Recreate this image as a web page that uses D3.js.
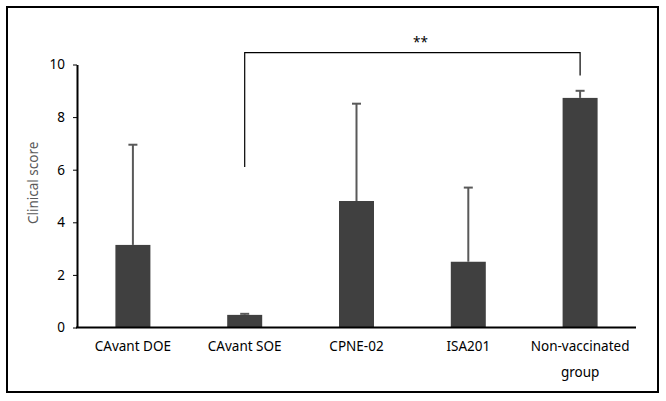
<!DOCTYPE html>
<head>
    <meta charset="utf-8">
    <script src="https://d3js.org/d3.v7.min.js"></script>
    <style>
        body { margin:0; background:#fff; }
        text { font-family: 'Noto Sans', sans-serif; }
        .frame { fill: none; stroke: black; stroke-width: 2; }
        .bar { fill: #404040; }
        .err { stroke: #595959; stroke-width: 2; }
        .axis .domain { stroke: black; stroke-width: 2; }
        .axis .tick line { stroke: black; }
        .axis .tick text { font-size: 13.5px; fill: black; }
        .y-title { font-size: 13.5px; fill: #595959; }
        .x-label { font-size: 13.5px; fill: black; }
        .bracket { fill: none; stroke: black; stroke-width: 1.2; }
        .stars { font-size: 13.5px; fill: black; }
    </style>
</head>
<body>
<script>
    const groups = ['CAvant DOE', 'CAvant SOE', 'CPNE-02', 'ISA201', 'Non-vaccinated group'];
    const means = [3.14, 0.48, 4.81, 2.5, 8.73];
    const upper = [6.95, 0.52, 8.51, 5.32, 9.0];
    const yTicks = [0, 2, 4, 6, 8, 10];

    // significance bracket: from group, to group, top level, leg ends
    const bracket = {from: 'CAvant SOE', to: 'Non-vaccinated group', level: 10.45, leftEnd: 6.1, rightEnd: 9.58, label: '**'};

    const width = 666, height = 401;
    const data = groups.map((g, i) => ({group: g, mean: means[i], upper: upper[i]}));

    const x = d3.scaleBand()
        .domain(groups)
        .range([77, 636])
        .paddingInner(0.687)
        .paddingOuter(0.3435);

    const y = d3.scaleLinear()
        .domain([0, 10])
        .range([327.5, 64.5]);

    const svg = d3.select('body').append('svg')
        .attr('width', width)
        .attr('height', height);

    svg.append('rect')
        .attr('class', 'frame')
        .attr('x', 7).attr('y', 7)
        .attr('width', 651).attr('height', 385);

    // bars
    svg.append('g').selectAll('rect')
        .data(data).enter().append('rect')
        .attr('class', 'bar')
        .attr('x', d => x(d.group))
        .attr('width', x.bandwidth())
        .attr('y', d => y(d.mean))
        .attr('height', d => y(0) - y(d.mean));

    // error bars (upper only)
    const err = svg.append('g');
    const cx = d => x(d.group) + x.bandwidth() / 2;
    err.selectAll('.err-v')
        .data(data).enter().append('line')
        .attr('class', 'err')
        .attr('x1', cx).attr('x2', cx)
        .attr('y1', d => y(d.mean)).attr('y2', d => y(d.upper));
    err.selectAll('.err-cap')
        .data(data).enter().append('line')
        .attr('class', 'err')
        .attr('x1', d => cx(d) - 4.5).attr('x2', d => cx(d) + 4.5)
        .attr('y1', d => y(d.upper)).attr('y2', d => y(d.upper));

    // y axis
    svg.append('g')
        .attr('class', 'axis')
        .attr('transform', `translate(${x.range()[0]},0)`)
        .call(d3.axisLeft(y).tickValues(yTicks).tickSize(4).tickSizeOuter(0).tickPadding(8));

    // x axis line
    svg.append('line')
        .attr('x1', x.range()[0] - 1).attr('x2', x.range()[1])
        .attr('y1', y(0)).attr('y2', y(0))
        .attr('stroke', 'black').attr('stroke-width', 2);

    // x labels (wrapped as in the original)
    const labels = svg.append('g').selectAll('text')
        .data(groups).enter().append('text')
        .attr('class', 'x-label')
        .attr('text-anchor', 'middle')
        .attr('x', d => x(d) + x.bandwidth() / 2)
        .attr('y', 351);
    labels.each(function(d) {
        const parts = d === 'Non-vaccinated group' ? ['Non-vaccinated', 'group'] : [d];
        d3.select(this).selectAll('tspan')
            .data(parts).enter().append('tspan')
            .attr('x', x(d) + x.bandwidth() / 2)
            .attr('dy', (p, i) => i === 0 ? 0 : 26)
            .text(p => p);
    });

    svg.append('text')
        .attr('class', 'y-title')
        .attr('text-anchor', 'middle')
        .attr('transform', `translate(38,${y(5.5)}) rotate(-90)`)
        .text('Clinical score');

    // bracket
    const bx1 = x(bracket.from) + x.bandwidth() / 2;
    const bx2 = x(bracket.to) + x.bandwidth() / 2;
    svg.append('path')
        .attr('class', 'bracket')
        .attr('d', `M${bx1},${y(bracket.leftEnd)}V${y(bracket.level)}H${bx2}V${y(bracket.rightEnd)}`);
    svg.append('text')
        .attr('class', 'stars')
        .attr('text-anchor', 'middle')
        .attr('x', (bx1 + bx2) / 2 + 8)
        .attr('y', y(bracket.level) - 6)
        .text(bracket.label);
</script>
</body>
